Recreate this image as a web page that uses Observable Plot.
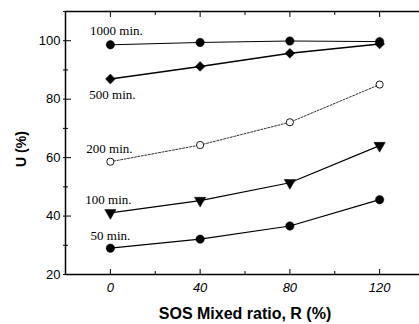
<!DOCTYPE html>
<html>
<head>
<meta charset="utf-8">
<script src="https://cdn.jsdelivr.net/npm/d3@7"></script>
<script src="https://cdn.jsdelivr.net/npm/@observablehq/plot@0.6"></script>
<style>
  html, body { margin: 0; padding: 0; background: #fff; overflow: hidden; }
  #chart svg { display: block; overflow: hidden; }
</style>
</head>
<body>
<div id="chart"></div>
<script>
// Data
const ratios = [0, 40, 80, 120];
const seriesNames = ["1000 min.", "500 min.", "200 min.", "100 min.", "50 min."];
const u1000 = [98.6, 99.4, 99.9, 99.7];
const u500 = [86.9, 91.2, 95.7, 98.9];
const u200 = [58.6, 64.3, 72.1, 85.0];
const u100 = [41.1, 45.3, 51.4, 64.1];
const u50 = [29.0, 32.1, 36.6, 45.6];
const xTicks = [0, 40, 80, 120];
const xMinor = [-20, 20, 60, 100, 140];
const yTicks = [20, 40, 60, 80, 100];
const yMinor = [30, 50, 70, 90, 110];
const xTitle = "SOS Mixed ratio, R (%)";
const yTitle = "U (%)";

const values = [u1000, u500, u200, u100, u50];
const rows = [];
seriesNames.forEach((s, i) => ratios.forEach((r, j) => rows.push({series: s, R: r, U: values[i][j]})));
const firsts = seriesNames.map((s, i) => ({series: s, R: ratios[0], U: values[i][0]}));

// styling per series (not data)
const style = {
  "1000 min.": {symbol: "circle", r: 4.2, fill: "black", dash: null, sw: 1, dx: 6, dy: -14},
  "500 min.": {symbol: "diamond2", r: 4.4, fill: "black", dash: null, sw: 1.4, dx: 2, dy: 16},
  "200 min.": {symbol: "circle", r: 3.6, fill: "white", dash: "2,1.5", sw: 0.8, dx: -1, dy: -13},
  "100 min.": {symbol: "triangle", r: 4.2, fill: "black", dash: null, sw: 1.2, dx: -2, dy: -13, rotate: 180},
  "50 min.": {symbol: "circle", r: 4.2, fill: "black", dash: null, sw: 1.2, dx: 0, dy: -12}
};

const marks = [];
const axisFont = "Liberation Sans, Arial, sans-serif";
// Axes: tick marks only
marks.push(Plot.axisX({ticks: xTicks, anchor: "bottom", tickSize: 5, dy: -5, tickFormat: () => "", label: null}));
marks.push(Plot.axisX({ticks: xMinor, anchor: "bottom", tickSize: 3, dy: -3, tickFormat: () => "", label: null}));
marks.push(Plot.axisX({ticks: xTicks, anchor: "top", tickSize: 5, dy: 5, tickFormat: () => "", label: null}));
marks.push(Plot.axisX({ticks: xMinor, anchor: "top", tickSize: 3, dy: 3, tickFormat: () => "", label: null}));
marks.push(Plot.axisY({ticks: yTicks, anchor: "left", tickSize: 8, dx: 6, tickFormat: () => "", label: null}));
marks.push(Plot.axisY({ticks: yMinor, anchor: "left", tickSize: 5, dx: 3, tickFormat: () => "", label: null}));
marks.push(Plot.axisY({ticks: yTicks, anchor: "right", tickSize: 5, dx: -5, tickFormat: () => "", label: null}));
// Tick labels
marks.push(Plot.axisX({ticks: xTicks, anchor: "bottom", tickSize: 0, tickPadding: 8, fontSize: 13, fontStyle: "italic", label: null}));
marks.push(Plot.axisY({ticks: yTicks, anchor: "left", tickSize: 0, tickPadding: 5, fontSize: 13, label: null}));

for (const s of seriesNames) {
  const st = style[s];
  const data = rows.filter(d => d.series === s);
  marks.push(Plot.line(data, {x: "R", y: "U", stroke: "black", strokeWidth: st.sw, strokeDasharray: st.dash}));
}
for (const s of seriesNames) {
  const st = style[s];
  const data = rows.filter(d => d.series === s);
  marks.push(Plot.dot(data, {x: "R", y: "U", symbol: st.symbol, r: st.r, fill: st.fill, stroke: "black",
    strokeWidth: st.fill === "white" ? 0.9 : 0.5, rotate: st.rotate || 0}));
  marks.push(Plot.text(firsts.filter(d => d.series === s), {x: "R", y: "U", text: "series", dx: st.dx, dy: st.dy,
    fontFamily: "Liberation Serif, Times New Roman, serif", fontSize: 13, fill: "black"}));
}
marks.push(Plot.frame({stroke: "black", strokeWidth: 1.5}));

const W = 419, H = 324, ML = 65, MR = -5, MT = 11, MB = 50;
const chart = Plot.plot({
  width: W,
  height: H,
  marginLeft: ML,
  marginRight: MR,
  marginTop: MT,
  marginBottom: MB,
  style: {fontFamily: axisFont, fontSize: "13px", color: "black", background: "white", overflow: "hidden"},
  x: {domain: [-20, 140]},
  y: {domain: [20, 110]},
  symbol: {type: "identity"},
  marks
});
document.getElementById("chart").appendChild(chart);

// axis titles as real SVG text
const ns = "http://www.w3.org/2000/svg";
const xt = document.createElementNS(ns, "text");
xt.setAttribute("x", 245);
xt.setAttribute("y", H - 5);
xt.setAttribute("text-anchor", "middle");
xt.setAttribute("font-weight", "bold");
xt.setAttribute("font-size", "16");
xt.setAttribute("font-family", axisFont);
xt.textContent = xTitle;
chart.appendChild(xt);
const yt = document.createElementNS(ns, "text");
yt.setAttribute("transform", `translate(26,149) rotate(-90)`);
yt.setAttribute("text-anchor", "middle");
yt.setAttribute("font-weight", "bold");
yt.setAttribute("font-size", "14");
yt.setAttribute("font-family", axisFont);
yt.textContent = yTitle;
chart.appendChild(yt);
</script>
</body>
</html>
